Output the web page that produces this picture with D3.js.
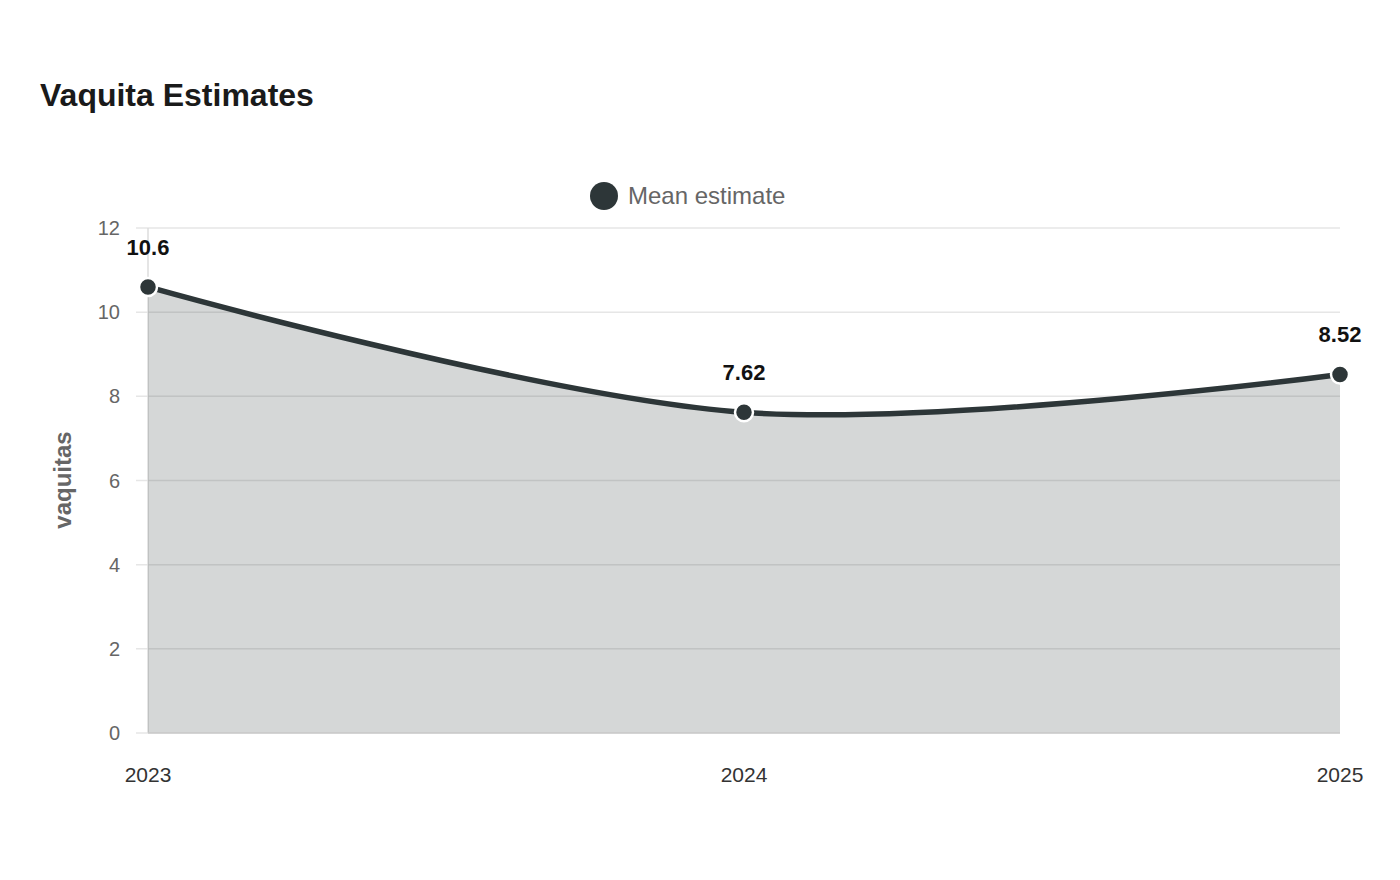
<!DOCTYPE html>
<html>
<head>
<meta charset="utf-8">
<script src="https://cdn.jsdelivr.net/npm/d3@7"></script>
<style>
  body { margin: 0; background: #fff; }
  svg text { font-family: "Liberation Sans", Arial, sans-serif; }
</style>
</head>
<body>
<div class="svg-container"></div>
<script>
const years = ['2023', '2024', '2025']
const meanEstimate = [10.6, 7.62, 8.52]
const yTicks = [0, 2, 4, 6, 8, 10, 12]
const seriesName = 'Mean estimate'

const W = 1400, H = 880
const margin = { top: 228, right: 60, bottom: 147, left: 148 }
const lineColor = '#2d3638'

const svg = d3.select('.svg-container').append('svg')
  .attr('width', W)
  .attr('height', H)

const x = d3.scalePoint()
  .domain(years)
  .range([margin.left, W - margin.right])

const y = d3.scaleLinear()
  .domain([0, 12])
  .range([H - margin.bottom, margin.top])

const data = years.map((yr, i) => ({ year: yr, value: meanEstimate[i] }))

// title
svg.append('text')
  .attr('x', 40)
  .attr('y', 106)
  .style('font-size', '32px')
  .style('font-weight', 'bold')
  .style('fill', '#1a1a1a')
  .text('Vaquita Estimates')

// legend
svg.append('circle')
  .attr('cx', 604)
  .attr('cy', 196)
  .attr('r', 14)
  .style('fill', lineColor)
svg.append('text')
  .attr('x', 628)
  .attr('y', 204)
  .style('font-size', '24px')
  .style('fill', '#666')
  .text(seriesName)

// grid lines
svg.append('g')
  .selectAll('line')
  .data(yTicks)
  .enter()
  .append('line')
  .attr('x1', margin.left - 12)
  .attr('x2', W - margin.right)
  .attr('y1', d => y(d))
  .attr('y2', d => y(d))
  .style('stroke', '#e6e6e6')
  .style('stroke-width', 1.5)

// y axis line
svg.append('line')
  .attr('x1', margin.left).attr('x2', margin.left)
  .attr('y1', y(12)).attr('y2', y(0))
  .style('stroke', '#ddd')
  .style('stroke-width', 1.5)

// y tick labels
svg.append('g')
  .selectAll('text')
  .data(yTicks)
  .enter()
  .append('text')
  .attr('x', 120)
  .attr('y', d => y(d) + 7)
  .attr('text-anchor', 'end')
  .style('font-size', '20px')
  .style('fill', '#666')
  .text(d => d)

// x tick labels
svg.append('g')
  .selectAll('text')
  .data(years)
  .enter()
  .append('text')
  .attr('x', d => x(d))
  .attr('y', 782)
  .attr('text-anchor', 'middle')
  .style('font-size', '21px')
  .style('fill', '#333')
  .text(d => d)

// y axis title
svg.append('text')
  .attr('transform', 'translate(71,480) rotate(-90)')
  .attr('text-anchor', 'middle')
  .style('font-size', '24px')
  .style('font-weight', 'bold')
  .style('fill', '#666')
  .text('vaquitas')

const curve = d3.curveCatmullRom.alpha(0.5)

const area = d3.area()
  .x(d => x(d.year))
  .y0(y(0))
  .y1(d => y(d.value))
  .curve(curve)

const line = d3.line()
  .x(d => x(d.year))
  .y(d => y(d.value))
  .curve(curve)

svg.append('path')
  .datum(data)
  .attr('d', area)
  .style('fill', lineColor)
  .style('fill-opacity', 0.2)

// baseline
svg.append('line')
  .attr('x1', margin.left).attr('x2', W - margin.right)
  .attr('y1', y(0)).attr('y2', y(0))
  .style('stroke', '#ccc')
  .style('stroke-width', 1.5)

svg.append('path')
  .datum(data)
  .attr('d', line)
  .style('fill', 'none')
  .style('stroke', lineColor)
  .style('stroke-width', 5.5)

svg.append('g')
  .selectAll('circle')
  .data(data)
  .enter()
  .append('circle')
  .attr('cx', d => x(d.year))
  .attr('cy', d => y(d.value))
  .attr('r', 9)
  .style('fill', lineColor)
  .style('stroke', '#fff')
  .style('stroke-width', 2.5)

svg.append('g')
  .selectAll('text')
  .data(data)
  .enter()
  .append('text')
  .attr('x', d => x(d.year))
  .attr('y', d => y(d.value) - 32)
  .attr('text-anchor', 'middle')
  .style('font-size', '22px')
  .style('font-weight', 'bold')
  .style('fill', '#111')
  .text(d => d.value)
</script>
</body>
</html>
